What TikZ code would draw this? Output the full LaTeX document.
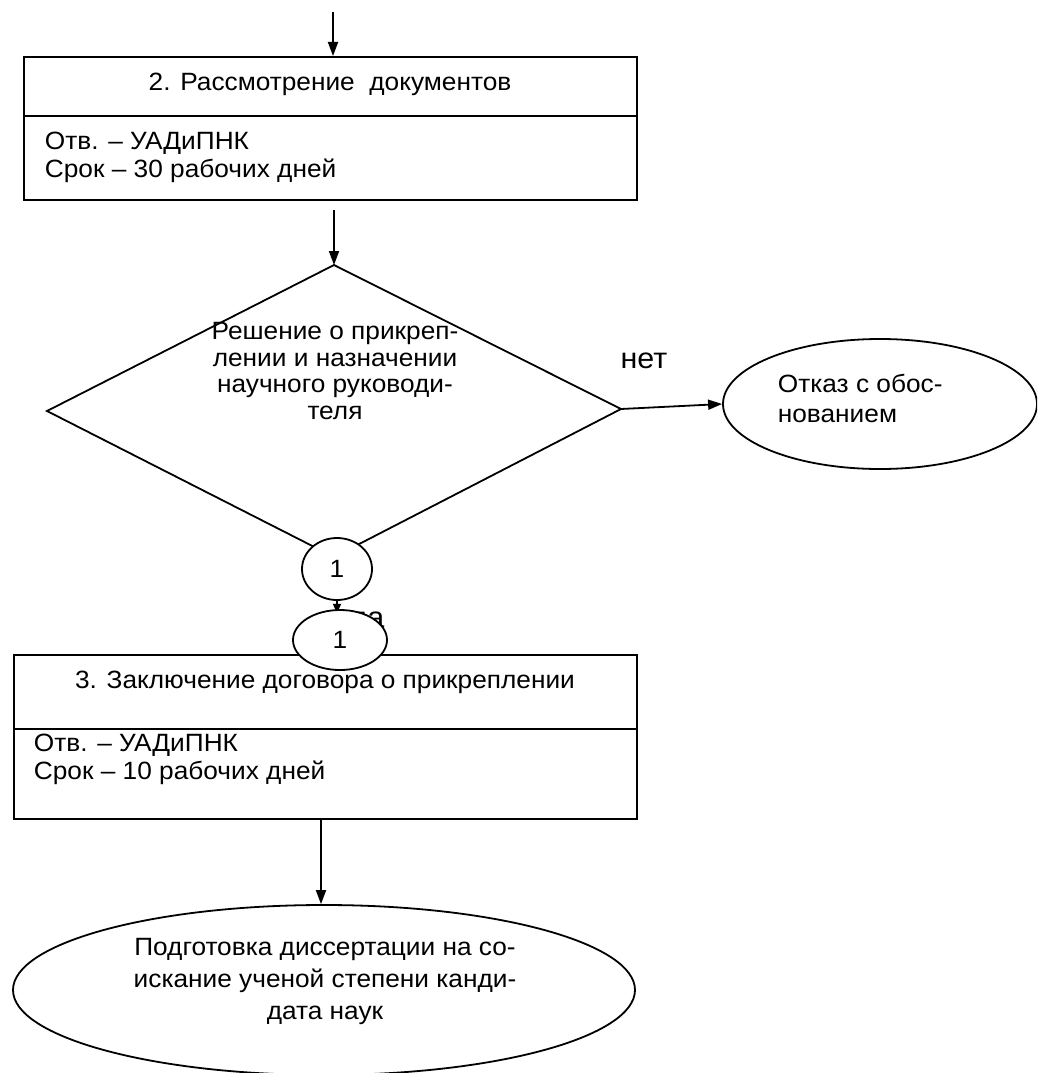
\documentclass[tikz,border=0pt]{standalone}
\usepackage{fontspec}
\setmainfont{Liberation Sans}[FakeStretch=1.05]
\usetikzlibrary{arrows.meta,shapes.geometric}
\begin{document}
\begin{tikzpicture}[x=1pt,y=-1pt, line width=1.8pt,
  txt/.style={font=\fontsize{25}{28}\selectfont, inner sep=0pt},
  txtdia/.style={font=\fontsize{25}{26.5}\selectfont, inner sep=0pt},
  txtwide/.style={font=\fontsize{25}{30}\selectfont, inner sep=0pt},
  txtfin/.style={font=\fontsize{25}{32}\selectfont, inner sep=0pt},
  big/.style={font=\fontsize{29}{30}\selectfont, inner sep=0pt},
  part/.style={draw, rectangle, inner sep=0pt, anchor=north west},
  arr/.style={-{Triangle[length=14pt,width=10pt]}},
  smallarr/.style={-{Triangle[length=9pt,width=8pt]}},
  oval/.style={draw, ellipse, inner sep=0pt, fill=white, font=\fontsize{25}{26}\selectfont}]
\useasboundingbox (0,0) rectangle (1037,1073);
\clip (0,0) rectangle (1037,1073);

% box 1
\node[part, minimum width=613pt, minimum height=59pt] (b1t) at (23,56) {};
\node[part, minimum width=613pt, minimum height=84pt] (b1b) at (23,115) {};
\node[txt] (b1title) at (330,84) {2. Рассмотрение\ \ документов};
\node[txt, anchor=west, align=left] (b1info) at (44,157) {Отв. – УАДиПНК\\Срок – 30 рабочих дней};
\coordinate (in1) at (333,12);
\draw[arr] (in1) -- (in1 |- b1t.north);

% diamond
\coordinate (dT) at (334,265);
\coordinate (dR) at (621,409);
\coordinate (dB) at (334,557);
\coordinate (dL) at (47,411);
\draw (dT) -- (dR) -- (dB) -- (dL) -- cycle;
\node[txtdia, align=center] (dtext) at (335,371) {Решение о прикреп-\\лении и назначении\\научного руководи-\\теля};
\coordinate (a2) at (334,210);
\draw[arr] (a2) -- (dT);

% reject
\node[oval, minimum width=314pt, minimum height=130pt] (rej) at (880,404) {};
\node[txtwide, anchor=west, align=left] (rejtext) at (777,398) {Отказ с обос-\\нованием};
\draw[arr] (dR) -- (rej.west);
\node[big, anchor=base] (no) at (644,368) {нет};

% connectors 1
\node[oval, minimum width=70pt, minimum height=62pt] (c1) at (337,569) {1};
\node[big, anchor=base] (yes) at (367,627) {да};
\draw[smallarr] (c1.south) -- ++(0,12) coordinate (c1end);

% box 2
\node[part, minimum width=623pt, minimum height=74pt] (b2t) at (13,654) {};
\node[part, minimum width=623pt, minimum height=90pt] (b2b) at (13,728) {};
\node[txt] (b2title) at (325,682) {3. Заключение договора о прикреплении};
\node[txt, anchor=west, align=left] (b2info) at (33,759) {Отв. – УАДиПНК\\Срок – 10 рабочих дней};
\node[oval, minimum width=94pt, minimum height=60pt] (c2) at (340,640) {1};

% final
\node[oval, minimum width=622pt, minimum height=170pt] (fin) at (324,990) {};
\node[txtfin, align=center] (fintext) at (325,981) {Подготовка диссертации на со-\\искание ученой степени канди-\\дата наук};
\coordinate (a4) at (321,818);
\draw[arr] (a4) -- (a4 |- fin.north);
\end{tikzpicture}
\end{document}
